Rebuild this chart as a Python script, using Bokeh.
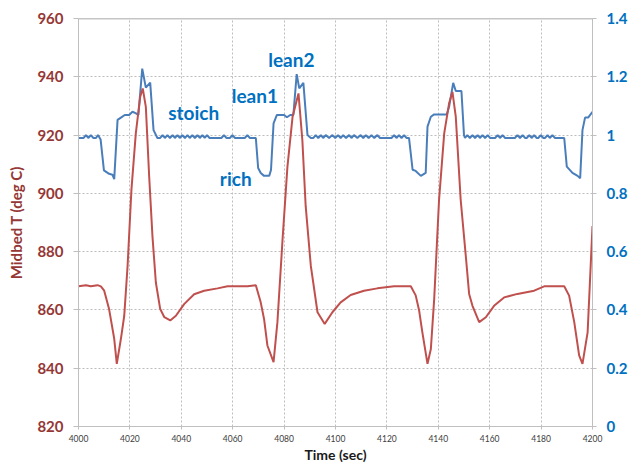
from math import pi

from bokeh.plotting import figure
from bokeh.models import (Range1d, LinearAxis, FixedTicker, CustomJSTickFormatter,
                          Span, Label)
from bokeh.embed import file_html
from bokeh.resources import INLINE

# Midbed temperature (deg C) against time (sec)
temp_time = [4000, 4002.9, 4004.8, 4007.4, 4008.7, 4010.0, 4011.9, 4013.9, 4014.9, 4016.5,
             4017.8, 4019.1, 4020.6, 4022.3, 4024.0, 4025.0, 4026.2, 4027.5, 4028.8, 4030.1,
             4031.8, 4033.4, 4035.7, 4037.9, 4041.1, 4045.0, 4048.9, 4054.1, 4058.0, 4065.8,
             4069.0, 4070.9, 4072.2, 4073.5, 4075.9, 4077.4, 4079.4, 4081.3, 4083.3, 4085.6,
             4087.1, 4088.4, 4090.4, 4093.0, 4095.8, 4098.8, 4102.0, 4105.9, 4111.1, 4116.3,
             4122.8, 4129.3, 4131.2, 4132.5, 4133.8, 4135.8, 4137.1, 4138.4, 4140.3, 4142.3,
             4144.2, 4145.5, 4146.8, 4148.7, 4150.7, 4152.0, 4153.3, 4155.9, 4158.5, 4161.7,
             4165.6, 4170.8, 4177.3, 4181.2, 4189.0, 4190.9, 4192.9, 4194.8, 4196.1, 4198.1,
             4200]
temp_c = [868.1, 868.5, 868.1, 868.5, 868.1, 866.6, 860.3, 850.1, 841.5, 850.1,
          858.0, 875.1, 901.3, 920.6, 933.1, 936.0, 929.7, 905.8, 885.0, 869.4,
          860.3, 857.5, 856.4, 858.0, 862.0, 865.4, 866.6, 867.4, 868.1, 868.1,
          868.5, 862.6, 856.9, 847.8, 842.1, 855.8, 884.2, 909.2, 926.3, 934.3,
          918.3, 895.6, 875.1, 859.2, 855.2, 859.2, 862.6, 865.1, 866.6, 867.4,
          868.1, 868.1, 865.0, 860.0, 852.3, 841.5, 846.6, 863.7, 897.9, 920.6,
          930.9, 934.8, 926.3, 897.9, 878.5, 865.5, 861.4, 855.8, 857.5, 861.4,
          864.3, 865.5, 866.6, 868.1, 868.1, 864.9, 855.8, 844.4, 841.5, 852.3,
          888.8]

# Lambda (air/fuel equivalence) against time (sec)
lambda_time = [4000, 4002.0, 4002.9, 4003.8, 4004.8, 4005.8, 4006.8, 4007.6, 4008.6, 4009.9,
               4011.9, 4013.2, 4013.9, 4015.2, 4016.5, 4018.0, 4019.7, 4021.0, 4022.2, 4023.3,
               4024.8, 4026.2, 4027.9, 4029.2, 4030.7,
               4031.8, 4032.7, 4033.6, 4034.6, 4035.6, 4036.6, 4037.5, 4038.5, 4039.4, 4040.4,
               4041.4, 4042.4, 4043.3, 4044.3, 4045.3, 4046.3, 4047.2, 4048.2, 4049.1, 4050.0,
               4051.0, 4055.6, 4056.6, 4057.6, 4058.9, 4059.9, 4060.9, 4064.7, 4065.7, 4066.7,
               4069.0,
               4069.9, 4070.9, 4072.2, 4074.2, 4074.9, 4075.9, 4077.2, 4080.0, 4081.1, 4082.4,
               4083.6, 4084.9, 4085.9, 4087.5, 4089.1, 4090.4,
               4091.4, 4092.3, 4093.3, 4094.3, 4095.2, 4096.2, 4097.5, 4098.8, 4099.9, 4101.0,
               4102.0, 4103.0, 4104.1, 4105.3, 4106.2, 4107.2, 4108.5, 4109.8, 4110.8, 4111.8,
               4112.9, 4114.0, 4115.1, 4116.3, 4117.3, 4121.8, 4122.8, 4123.7, 4124.7, 4125.7,
               4126.7, 4127.6, 4128.6,
               4130.0, 4131.2, 4133.2, 4135.1, 4135.8, 4137.1, 4138.4, 4143.3, 4144.2, 4145.8,
               4146.8, 4149.0, 4150.0, 4150.4,
               4151.3, 4152.3, 4153.3, 4154.3, 4155.3, 4156.2, 4157.2, 4158.2, 4159.2, 4160.2,
               4162.1, 4163.1, 4164.0, 4165.0, 4166.0, 4169.8, 4170.8, 4171.8, 4172.8, 4173.8,
               4174.4, 4175.4, 4176.3, 4177.3, 4178.3, 4178.9, 4179.9, 4180.9, 4181.5, 4182.5,
               4183.4, 4184.4, 4185.4, 4189.0,
               4190.0, 4192.2, 4194.2, 4195.2, 4196.1, 4197.1, 4198.3, 4200]
lambda_val = [0.99, 0.99, 1.0, 0.99, 1.0, 0.99, 0.99, 1.0, 0.985, 0.879,
              0.867, 0.864, 0.849, 1.052, 1.06, 1.069, 1.069, 1.08, 1.075, 1.069,
              1.228, 1.163, 1.18, 1.017, 0.99,
              0.99, 1.0, 0.99, 1.0, 0.99, 1.0, 0.99, 1.0, 0.99, 1.0,
              0.99, 1.0, 0.99, 1.0, 0.99, 1.0, 0.99, 1.0, 0.99, 1.0,
              0.99, 0.99, 1.0, 0.99, 0.99, 1.0, 0.99, 0.99, 1.0, 0.99,
              0.99,
              0.887, 0.87, 0.86, 0.86, 0.88, 1.04, 1.069, 1.069, 1.061, 1.069,
              1.069, 1.209, 1.16, 1.179, 1.0, 0.99,
              0.99, 1.0, 0.99, 1.0, 0.99, 1.0, 0.99, 1.0, 0.99, 1.0,
              0.99, 1.0, 0.99, 1.0, 0.99, 1.0, 0.99, 1.0, 0.99, 1.0,
              0.99, 1.0, 0.99, 1.0, 0.99, 0.99, 1.0, 0.99, 1.0, 0.99,
              1.0, 0.99, 0.99,
              0.881, 0.877, 0.86, 0.87, 1.029, 1.063, 1.071, 1.071, 1.097, 1.179,
              1.151, 1.151, 1.0, 0.99,
              1.0, 0.99, 1.0, 0.99, 1.0, 0.99, 1.0, 0.99, 1.0, 0.99,
              0.99, 1.0, 0.99, 1.0, 0.99, 0.99, 1.0, 0.99, 1.0, 0.99,
              0.99, 1.0, 0.99, 1.0, 0.99, 0.99, 1.0, 0.99, 0.99, 1.0,
              0.99, 1.0, 0.99, 0.99,
              0.892, 0.87, 0.86, 0.852, 1.017, 1.06, 1.06, 1.08]

time_ticks = [4000, 4020, 4040, 4060, 4080, 4100, 4120, 4140, 4160, 4180, 4200]
temp_ticks = [820, 840, 860, 880, 900, 920, 940, 960]
lambda_ticks = [0, 0.2, 0.4, 0.6, 0.8, 1, 1.2, 1.4]

# Mixture phase notes: text, time (sec), temperature-scale height of the text baseline
phase_text = ["stoich", "lean1", "lean2", "rich"]
phase_time = [4034.9, 4059.6, 4073.8, 4055.0]
phase_temp = [927.8, 933.5, 945.8, 905.2]

FONT = "Lato"
RED_TEXT = "#953735"
BLUE_TEXT = "#0070C0"
RED_LINE = "#C0504D"
BLUE_LINE = "#4A7EBB"
AXIS_GRAY = "#BFBFBF"

p = figure(width=644, height=465,
           x_range=Range1d(4000, 4200), y_range=Range1d(820, 960),
           output_backend="svg", toolbar_location=None,
           min_border_left=78, min_border_right=52,
           min_border_top=18, min_border_bottom=37)
p.extra_y_ranges = {"lam": Range1d(0, 1.4)}
p.outline_line_color = None
p.background_fill_color = "white"
p.border_fill_color = "white"

# grid
for g in (p.xgrid[0], p.ygrid[0]):
    g.grid_line_color = "#BDBDBD"
    g.grid_line_dash = "2 2"
    g.grid_line_width = 1
p.xgrid[0].ticker = FixedTicker(ticks=time_ticks)
p.ygrid[0].ticker = FixedTicker(ticks=temp_ticks)

# bottom axis
xa = p.xaxis[0]
xa.ticker = FixedTicker(ticks=time_ticks)
xa.axis_label = "Time (sec)"
xa.axis_label_text_font = FONT
xa.axis_label_text_font_style = "bold"
xa.axis_label_text_font_size = "14px"
xa.axis_label_text_color = "#1A1A1A"
xa.axis_label_standoff = 1
xa.major_label_text_font = FONT
xa.major_label_text_font_size = "8.5px"
xa.major_label_text_color = "#404040"
xa.major_label_standoff = 5
xa.axis_line_color = AXIS_GRAY
xa.major_tick_line_color = AXIS_GRAY
xa.major_tick_out = 3
xa.major_tick_in = 0
xa.minor_tick_line_color = None

# left axis (temperature)
ya = p.yaxis[0]
ya.ticker = FixedTicker(ticks=temp_ticks)
ya.axis_label = "Midbed T (deg C)"
ya.axis_label_text_font = FONT
ya.axis_label_text_font_style = "bold"
ya.axis_label_text_font_size = "15px"
ya.axis_label_text_color = RED_TEXT
ya.axis_label_standoff = 9
ya.major_label_text_font = FONT
ya.major_label_text_font_style = "bold"
ya.major_label_text_font_size = "15px"
ya.major_label_text_color = RED_TEXT
ya.major_label_standoff = 10
ya.axis_line_color = AXIS_GRAY
ya.major_tick_line_color = AXIS_GRAY
ya.major_tick_out = 5
ya.major_tick_in = 0
ya.minor_tick_line_color = None

# right axis (lambda)
ra = LinearAxis(y_range_name="lam", ticker=FixedTicker(ticks=lambda_ticks),
                formatter=CustomJSTickFormatter(code="return String(Math.round(tick * 10) / 10);"))
ra.major_label_text_font = FONT
ra.major_label_text_font_style = "bold"
ra.major_label_text_font_size = "15px"
ra.major_label_text_color = BLUE_TEXT
ra.major_label_standoff = 10
ra.axis_line_color = AXIS_GRAY
ra.major_tick_line_color = AXIS_GRAY
ra.major_tick_out = 4
ra.major_tick_in = 0
ra.minor_tick_line_color = None
p.add_layout(ra, "right")

# top edge of the plot area
p.add_layout(Span(location=960, dimension="width", line_color="#8C8C8C", line_width=1.5))

# series
p.line(lambda_time, lambda_val, y_range_name="lam", line_color=BLUE_LINE, line_width=2)
p.line(temp_time, temp_c, line_color=RED_LINE, line_width=2)

# mixture phase notes
for txt, tx, ty in zip(phase_text, phase_time, phase_temp):
    p.add_layout(Label(x=tx, y=ty, text=txt, text_font=FONT, text_font_style="bold",
                       text_font_size="19px", text_color=BLUE_TEXT,
                       text_align="left", text_baseline="alphabetic"))

# right-hand axis title, reading upwards
p.add_layout(Label(x=4200, y=890, x_offset=44, text="Lambda", angle=pi / 2,
                   text_font=FONT, text_font_style="bold", text_font_size="15px",
                   text_color=BLUE_TEXT, text_align="center", text_baseline="middle"))

open("out.html", "w").write(file_html(p, INLINE))
